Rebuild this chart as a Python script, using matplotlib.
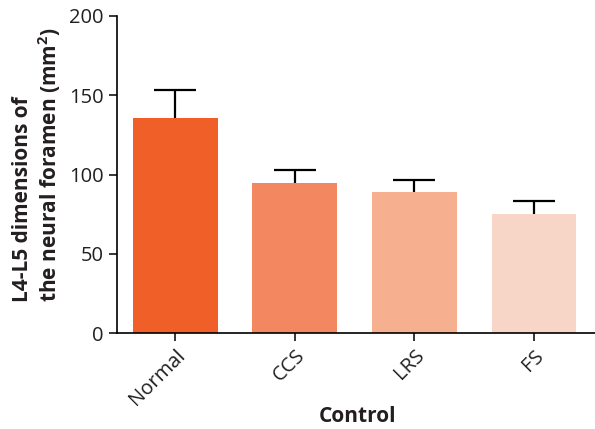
import matplotlib
matplotlib.use("Agg")
import matplotlib.pyplot as plt
from matplotlib.transforms import ScaledTranslation

categories = ["Normal", "CCS", "LRS", "FS"]
means = [135.6, 94.6, 89.0, 75.1]
errors = [17.4, 8.0, 7.5, 8.0]
colors = ["#EF5F27", "#F3875F", "#F6AF8F", "#F7D6C8"]
yticks = [0, 50, 100, 150, 200]

plt.rcParams['font.family'] = ['Open Sans', 'DejaVu Sans']

fig = plt.figure(figsize=(5.95, 4.29), dpi=100)
ax = fig.add_axes([0.196, 0.223, 0.804, 0.740])

x = list(range(len(categories)))
ax.bar(x, means, width=0.71, color=colors, zorder=2)
eb = ax.errorbar(x, means, yerr=[[0]*len(errors), errors], fmt='none',
                 ecolor='black', elinewidth=1.6, capsize=15, capthick=1.6, zorder=1)
# only the upper caps are drawn
eb[1][0].set_visible(False)

ax.set_xlim(-0.49, 3.51)
ax.set_ylim(0, 200)
ax.set_yticks(yticks)
ax.set_yticklabels([str(t) for t in yticks], fontsize=14.5, color='#231F20')
ax.set_xticks(x)
ax.set_xticklabels(categories, rotation=45, ha='right', rotation_mode='anchor',
                   fontsize=14.5, color='#231F20')
shift = ScaledTranslation(-0.04, -0.01, fig.dpi_scale_trans)
for lbl in ax.get_xticklabels():
    lbl.set_transform(lbl.get_transform() + shift)

for side in ['top', 'right']:
    ax.spines[side].set_visible(False)
for side in ['left', 'bottom']:
    ax.spines[side].set_linewidth(1.2)
ax.tick_params(axis='both', length=6, width=1.1, direction='out')
ax.tick_params(axis='x', pad=3)

ax.set_ylabel("L4-L5 dimensions of\nthe neural foramen (mm$\\mathregular{^2}$)",
              fontsize=15, fontweight='bold', color='#231F20',
              linespacing=1.15, ha='left', multialignment='left')
ax.yaxis.set_label_coords(-0.112, 0.098)
ax.set_xlabel("Control", fontsize=15, fontweight='bold', color='#231F20')
ax.xaxis.set_label_coords(0.503, -0.228)

fig.savefig("out.png", dpi=100)
